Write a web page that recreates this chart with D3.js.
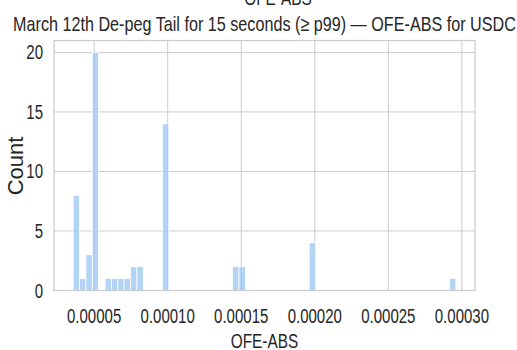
<!DOCTYPE html>
<html>
<head>
<meta charset="utf-8">
<script src="https://cdn.jsdelivr.net/npm/d3@7"></script>
<style>
  body { margin: 0; background: #fff; }
  text { font-family: "Liberation Sans", Arial, sans-serif; fill: #262626; }
</style>
</head>
<body>
<div id="chart"></div>
<script>
// histogram of OFE-ABS, 60 bins between the min and max observation
var dataMin = 0.00003573;
var dataMax = 0.0002959;
var nBins = 60;
// only non-empty bins
var binIndex = [0, 1, 2, 3, 5, 6, 7, 8, 9, 10, 14, 25, 26, 37, 59];
var binCount = [8, 1, 3, 20, 1, 1, 1, 1, 2, 2, 14, 2, 2, 4, 1];
var xTicks = [0.00005, 0.00010, 0.00015, 0.00020, 0.00025, 0.00030];
var yTicks = [0, 5, 10, 15, 20];

var width = 517, height = 350;
var margin = { top: 40.5, right: 42, bottom: 59.5, left: 54 };
var innerW = width - margin.left - margin.right;
var innerH = height - margin.top - margin.bottom;

var binWidth = (dataMax - dataMin) / nBins;
var bins = binIndex.map(function (b, i) {
    return { x0: dataMin + b * binWidth, x1: dataMin + (b + 1) * binWidth, n: binCount[i] };
});

var pad = (dataMax - dataMin) * 0.05;
var x = d3.scaleLinear().domain([dataMin - pad, dataMax + pad]).range([0, innerW]);
var y = d3.scaleLinear().domain([0, d3.max(binCount) * 1.05]).range([innerH, 0]);

var svg = d3.select("#chart").append("svg")
    .attr("width", width).attr("height", height);

// squeeze text horizontally, the reference font is narrow
function condense(sel, k) {
    sel.each(function () {
        var len = this.getComputedTextLength();
        d3.select(this).attr("textLength", len * k).attr("lengthAdjust", "spacingAndGlyphs");
    });
}

var g = svg.append("g").attr("transform", `translate(${margin.left},${margin.top})`);

// grid
g.selectAll(".vgrid").data(xTicks).enter().append("line")
    .attr("x1", function (d) { return x(d); }).attr("x2", function (d) { return x(d); })
    .attr("y1", 0).attr("y2", innerH)
    .attr("stroke", "#cccccc").attr("stroke-width", 1);
g.selectAll(".hgrid").data(yTicks).enter().append("line")
    .attr("x1", 0).attr("x2", innerW)
    .attr("y1", function (d) { return y(d); }).attr("y2", function (d) { return y(d); })
    .attr("stroke", "#cccccc").attr("stroke-width", 1);

// bars
g.selectAll(".bar").data(bins).enter().append("rect")
    .attr("x", function (d) { return x(d.x0); })
    .attr("width", function (d) { return x(d.x1) - x(d.x0); })
    .attr("y", function (d) { return y(d.n); })
    .attr("height", function (d) { return y(0) - y(d.n); })
    .attr("fill", "#a1c9f4").attr("fill-opacity", 0.8)
    .attr("stroke", "#ffffff").attr("stroke-width", 0.75);

// frame
g.append("rect").attr("width", innerW).attr("height", innerH)
    .attr("fill", "none").attr("stroke", "#cccccc").attr("stroke-width", 1.25);

// tick labels
var xl = g.selectAll(".xt").data(xTicks).enter().append("text")
    .attr("x", function (d) { return x(d); })
    .attr("y", innerH + 32)
    .attr("text-anchor", "middle")
    .style("font-size", "20px")
    .text(function (d) { return d.toFixed(5); });
condense(xl, 0.75);

var yl = g.selectAll(".yt").data(yTicks).enter().append("text")
    .attr("x", -11)
    .attr("y", function (d) { return y(d) + 7; })
    .attr("text-anchor", "end")
    .style("font-size", "20px")
    .text(function (d) { return d; });
condense(yl, 0.75);

// axis labels
var xlab = svg.append("text")
    .attr("x", margin.left + innerW / 2).attr("y", 348)
    .attr("text-anchor", "middle").style("font-size", "20px")
    .text("OFE-ABS");
condense(xlab, 0.77);

svg.append("text")
    .attr("transform", "translate(23,166) rotate(-90)")
    .attr("text-anchor", "middle").style("font-size", "22px")
    .text("Count");

// titles
var title = svg.append("text")
    .attr("x", margin.left + innerW / 2).attr("y", 30.5)
    .attr("text-anchor", "middle").style("font-size", "21px")
    .text("March 12th De-peg Tail for 15 seconds (\u2265 p99) \u2014 OFE-ABS for USDC");
condense(title, 0.77);

var sup = svg.append("text")
    .attr("x", 278).attr("y", 5)
    .attr("text-anchor", "middle").style("font-size", "20px")
    .text("OFE-ABS");
condense(sup, 0.77);
</script>
</body>
</html>
